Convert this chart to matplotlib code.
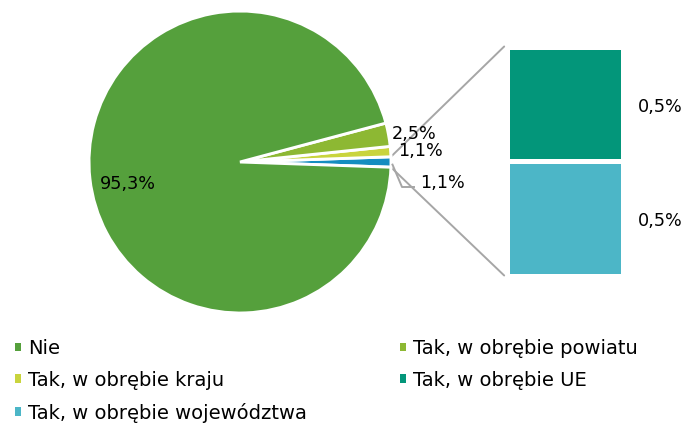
import matplotlib
matplotlib.use("Agg")
import matplotlib.pyplot as plt
from matplotlib.patches import Patch, ConnectionPatch
import numpy as np

# ---- data -------------------------------------------------------------
pie_labels = ["Tak, w obrębie UE + województwa", "Tak, w obrębie kraju",
              "Tak, w obrębie powiatu", "Nie"]
pie_values = [1.1, 1.1, 2.5, 95.3]
pie_text = ["1,1%", "1,1%", "2,5%", "95,3%"]

bar_labels = ["Tak, w obrębie województwa", "Tak, w obrębie UE"]
bar_values = [0.5, 0.5]
bar_text = ["0,5%", "0,5%"]

legend_col1 = ["Nie", "Tak, w obrębie kraju", "Tak, w obrębie województwa"]
legend_col2 = ["Tak, w obrębie powiatu", "Tak, w obrębie UE"]

# ---- style ------------------------------------------------------------
C_NIE = "#55A03C"
C_POW = "#8DB833"
C_KRA = "#C9D43D"
C_OTHER = "#158DC0"
C_UE = "#03967A"
C_WOJ = "#4CB6C7"
LINE = "#A6A6A6"
pie_colors = [C_OTHER, C_KRA, C_POW, C_NIE]
bar_colors = [C_WOJ, C_UE]
colors_by_name = {"Nie": C_NIE, "Tak, w obrębie powiatu": C_POW,
                  "Tak, w obrębie kraju": C_KRA, "Tak, w obrębie UE": C_UE,
                  "Tak, w obrębie województwa": C_WOJ}

plt.rcParams["font.family"] = ["DejaVu Sans"]

W, H = 682, 425
fig = plt.figure(figsize=(W / 100, H / 100), dpi=100)


def box(x0, y0, x1, y1):
    """Pixel box (top-left origin) -> figure fraction rect."""
    return [x0 / W, (H - y1) / H, (x1 - x0) / W, (y1 - y0) / H]


def fxy(x, y):
    return (x / W, (H - y) / H)


# ---- pie --------------------------------------------------------------
cx, cy, r = 240, 162, 151
ax_pie = fig.add_axes(box(cx - r, cy - r, cx + r, cy + r))
start = -pie_values[0] * 3.6 / 2
wedges, _ = ax_pie.pie(pie_values, colors=pie_colors, startangle=start,
                       counterclock=True, radius=1,
                       wedgeprops=dict(edgecolor="white", linewidth=2.1))
ax_pie.set_xlim(-1, 1)
ax_pie.set_ylim(-1, 1)
ax_pie.set_aspect("equal")
ax_pie.axis("off")

# ---- bar --------------------------------------------------------------
pad = 2.5
ax_bar = fig.add_axes(box(509 - pad, 49 - pad, 620 + pad, 273 + pad))
bottom = 0.0
bar_mid = []
for v, c in zip(bar_values, bar_colors):
    ax_bar.bar(0, v, bottom=bottom, width=1.0, color=c,
               edgecolor="white", linewidth=3.6)
    bar_mid.append(bottom + v / 2)
    bottom += v
ax_bar.set_xlim(-0.5, 0.5)
ax_bar.set_ylim(0, sum(bar_values))
ax_bar.axis("off")

# connectors from the combined slice to the bar
other = wedges[0]
for ang, yb in [(other.theta2, sum(bar_values)), (other.theta1, 0.0)]:
    a = np.deg2rad(ang)
    con = ConnectionPatch(xyA=(np.cos(a), np.sin(a)), coordsA=ax_pie.transData,
                          xyB=(-0.52, yb), coordsB=ax_bar.transData,
                          color=LINE, linewidth=1.4, zorder=0)
    fig.add_artist(con)

# ---- value labels -----------------------------------------------------
fs_lab = 12.7
label_pos = [(442, 183), (420, 151), (414, 134), (128, 184)]
for t, (x, y) in zip(pie_text, label_pos):
    fig.text(*fxy(x, y), t, ha="center", va="center", fontsize=fs_lab,
             color="black")

# leader for the combined-slice label
a = np.deg2rad(other.theta1 + 1)
p0 = ax_pie.transData.transform((np.cos(a) * 1.01, np.sin(a) * 1.01))
p0 = fig.transFigure.inverted().transform(p0)
xs = [p0[0], fxy(402, 187)[0], fxy(414, 187)[0]]
ys = [p0[1], fxy(402, 187)[1], fxy(414, 187)[1]]
fig.add_artist(plt.Line2D(xs, ys, color=LINE, linewidth=1.4))

for t, m in zip(bar_text, bar_mid):
    ax_bar.annotate(t, xy=(0.5, m), xycoords="data", xytext=(38, -3),
                    textcoords="offset pixels", ha="center", va="center",
                    fontsize=fs_lab, annotation_clip=False)

# ---- legends ----------------------------------------------------------
def make_legend(names, x, y):
    handles = [Patch(facecolor=colors_by_name[n], edgecolor="none") for n in names]
    leg = fig.legend(handles, names, loc="upper left",
                     bbox_to_anchor=fxy(x, y), bbox_transform=fig.transFigure,
                     frameon=False, fontsize=14, handlelength=0.32,
                     handleheight=0.32, handletextpad=0.36, labelspacing=0.66,
                     borderpad=0, borderaxespad=0)
    return leg


make_legend(legend_col1, 15, 339)
make_legend(legend_col2, 400, 339)

fig.savefig("out.png", dpi=100, facecolor="white")
